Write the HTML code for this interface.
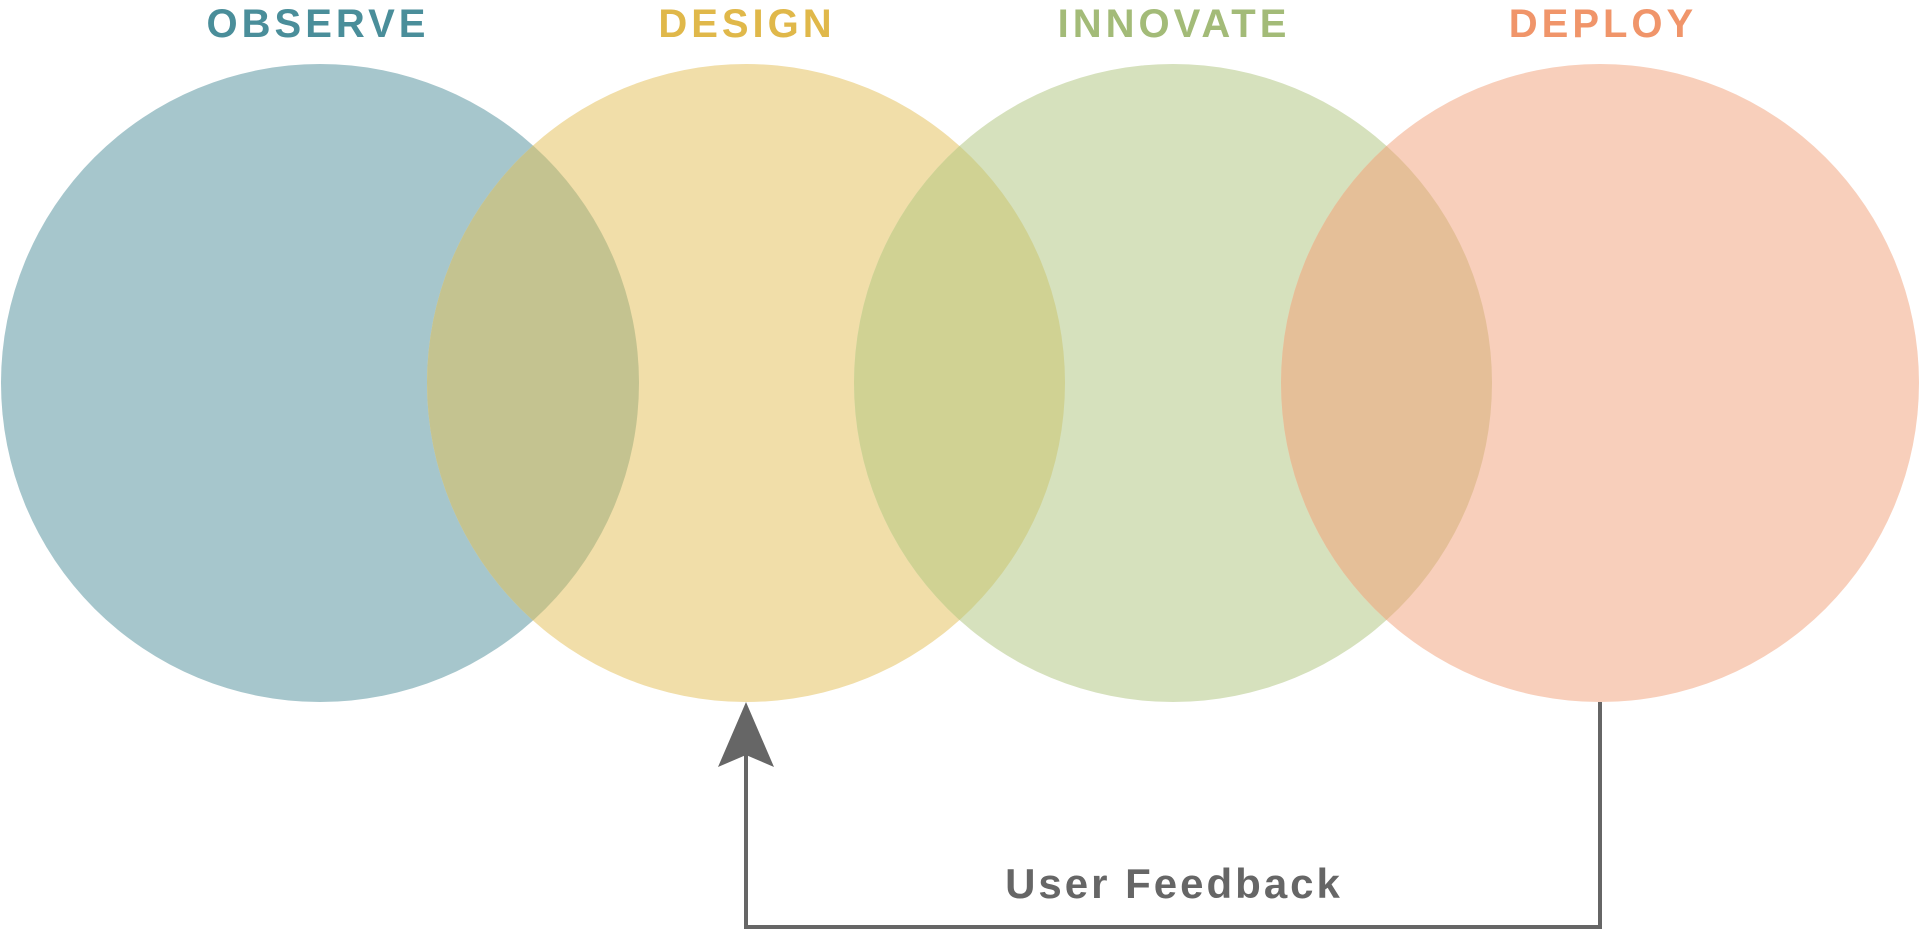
<!DOCTYPE html>
<html><head><meta charset="utf-8"><style>
html,body{margin:0;padding:0;background:#fff;width:1920px;height:931px;overflow:hidden}
svg{display:block}
text{font-family:"Liberation Sans",sans-serif;font-weight:bold}
</style></head><body>
<svg width="1920" height="931" viewBox="0 0 1920 931" xmlns="http://www.w3.org/2000/svg">
<defs>
<clipPath id="c1"><circle cx="320" cy="383" r="319"/></clipPath>
<clipPath id="c2"><circle cx="746" cy="383" r="319"/></clipPath>
<clipPath id="c3"><circle cx="1173" cy="383" r="319"/></clipPath>
</defs>
<circle cx="320" cy="383" r="319" fill="#a6c6cc"/>
<circle cx="746" cy="383" r="319" fill="#f1dea9"/>
<circle cx="1173" cy="383" r="319" fill="#d6e1bd"/>
<circle cx="1600" cy="383" r="319" fill="#f8cfbb"/>
<circle cx="746" cy="383" r="319" fill="#c4c390" clip-path="url(#c1)"/>
<circle cx="1173" cy="383" r="319" fill="#d0d293" clip-path="url(#c2)"/>
<circle cx="1600" cy="383" r="319" fill="#e5bf98" clip-path="url(#c3)"/>
<text x="318" y="37" font-size="40" fill="#4a8e9a" text-anchor="middle" letter-spacing="4">OBSERVE</text>
<text x="747" y="37" font-size="40" fill="#e0b84a" text-anchor="middle" letter-spacing="4">DESIGN</text>
<text x="1174" y="37" font-size="40" fill="#a3bb78" text-anchor="middle" letter-spacing="4">INNOVATE</text>
<text x="1603" y="37" font-size="40" fill="#f0956a" text-anchor="middle" letter-spacing="4">DEPLOY</text>
<polyline points="1600,702 1600,927 746,927 746,752" fill="none" stroke="#666" stroke-width="4"/>
<polygon points="746,702 774,767 746,755 718,767" fill="#666"/>
<text x="1174" y="898" font-size="42" fill="#666" text-anchor="middle" letter-spacing="3">User Feedback</text>
</svg>
</body></html>
